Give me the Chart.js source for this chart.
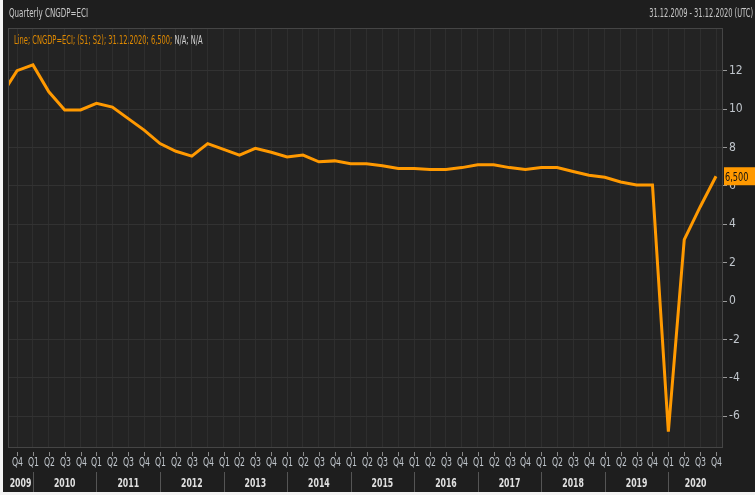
<!DOCTYPE html>
<html>
<head>
<meta charset="utf-8">
<script src="https://cdn.jsdelivr.net/npm/chart.js@4"></script>
<style>
  html, body { margin: 0; padding: 0; background: #1e1e1e; }
  #wrap { width: 755px; height: 495px; }
</style>
</head>
<body>
<div id="wrap"><canvas id="gdpChart" width="755" height="495"></canvas></div>
<script>
// quarters from Q3 2009 (partly off the left edge) to Q4 2020
const quarters = [
  'Q3','Q4',
  'Q1','Q2','Q3','Q4', 'Q1','Q2','Q3','Q4', 'Q1','Q2','Q3','Q4',
  'Q1','Q2','Q3','Q4', 'Q1','Q2','Q3','Q4', 'Q1','Q2','Q3','Q4',
  'Q1','Q2','Q3','Q4', 'Q1','Q2','Q3','Q4', 'Q1','Q2','Q3','Q4',
  'Q1','Q2','Q3','Q4', 'Q1','Q2','Q3','Q4'
];
const years = ['2009','2010','2011','2012','2013','2014','2015','2016','2017','2018','2019','2020'];
const gdpGrowth = [
  10.7, 12.0,
  12.3, 10.9, 9.95, 9.95,
  10.3, 10.1, 9.5, 8.9,
  8.2, 7.8, 7.55, 8.2,
  7.9, 7.6, 7.95, 7.75,
  7.5, 7.6, 7.25, 7.3,
  7.15, 7.15, 7.05, 6.9,
  6.9, 6.85, 6.85, 6.95,
  7.1, 7.1, 6.95, 6.85,
  6.95, 6.95, 6.75, 6.55,
  6.45, 6.2, 6.05, 6.05,
  -6.8, 3.2, 4.9, 6.5
];
const yTicks = [-6, -4, -2, 0, 2, 4, 6, 8, 10, 12];

const FONT = '"DejaVu Sans Condensed", "Liberation Sans Narrow", sans-serif';
const ORANGE = '#ff9900';

// x = 0 is Q4 2009
const points = gdpGrowth.map((v, i) => ({ x: i - 1, y: v }));

// the original uses a very narrow font, so squeeze text horizontally
function narrowText(ctx, text, x, y, align, sx) {
  ctx.save();
  ctx.translate(x, y);
  ctx.scale(sx, 1);
  ctx.textAlign = align;
  ctx.fillText(text, 0, 0);
  ctx.restore();
  return ctx.measureText(text).width * sx;
}

const decorations = {
  id: 'decorations',
  beforeDraw(chart) {
    const { ctx, chartArea: a } = chart;
    ctx.save();
    ctx.fillStyle = '#1e1e1e';
    ctx.fillRect(0, 0, chart.width, chart.height);
    ctx.fillStyle = '#232323';
    ctx.fillRect(a.left, a.top, a.right - a.left, a.bottom - a.top);
    ctx.restore();
  },
  afterDraw(chart) {
    const { ctx, chartArea: a, scales } = chart;
    const xs = scales.x;
    ctx.save();
    // frame
    ctx.strokeStyle = '#454545';
    ctx.lineWidth = 1;
    ctx.strokeRect(a.left + 0.5, a.top + 0.5, a.right - a.left - 1, a.bottom - a.top);

    // header texts
    ctx.font = '12px ' + FONT;
    ctx.textBaseline = 'middle';
    ctx.fillStyle = '#c8c8c8';
    narrowText(ctx, 'Quarterly CNGDP=ECI', 9, 14, 'left', 0.66);
    narrowText(ctx, '31.12.2009 - 31.12.2020 (UTC)', 753, 14, 'right', 0.62);

    // in-plot legend line
    const lead = 'Line; CNGDP=ECI; (S1; S2); 31.12.2020; 6,500; ';
    ctx.fillStyle = '#e08a00';
    const w = narrowText(ctx, lead, 14, 41, 'left', 0.62);
    ctx.fillStyle = '#d0d0d0';
    narrowText(ctx, 'N/A; N/A', 14 + w, 41, 'left', 0.62);

    // quarter tick marks and labels
    ctx.strokeStyle = '#8a8a8a';
    ctx.fillStyle = '#c0c6cc';
    for (let i = 0; i < quarters.length - 1; i++) {
      const px = Math.round(xs.getPixelForValue(i)) + 0.5;
      ctx.beginPath();
      ctx.moveTo(px, a.bottom + 5);
      ctx.lineTo(px, a.bottom + 9);
      ctx.stroke();
      narrowText(ctx, quarters[i + 1], px, 463, 'center', 0.72);
    }

    // year row
    ctx.font = 'bold 12px ' + FONT;
    ctx.fillStyle = '#e0e0e0';
    ctx.strokeStyle = '#555';
    years.forEach((yr, k) => {
      const startIdx = k === 0 ? -0.6 : 1 + (k - 1) * 4;
      const endIdx = 1 + k * 4;
      const x0 = Math.max(a.left, xs.getPixelForValue(startIdx));
      const x1 = Math.min(a.right, xs.getPixelForValue(endIdx));
      narrowText(ctx, yr, (x0 + x1) / 2, 484, 'center', 0.72);
      if (k < years.length - 1) {
        const sx = Math.round(x1) + 0.5;
        ctx.beginPath();
        ctx.moveTo(sx, 472);
        ctx.lineTo(sx, 492);
        ctx.stroke();
      }
    });

    // last value badge
    const last = gdpGrowth[gdpGrowth.length - 1];
    const ly = scales.y.getPixelForValue(last);
    ctx.fillStyle = ORANGE;
    ctx.fillRect(a.right + 1, ly - 9, 755 - a.right, 18);
    ctx.fillStyle = '#111';
    ctx.font = '13px ' + FONT;
    narrowText(ctx, last.toFixed(3).replace('.', ','), a.right + 2, ly + 1, 'left', 0.7);

    // white edges of the screenshot
    ctx.fillStyle = '#f4f4f4';
    ctx.fillRect(0, 0, 3, chart.height);
    ctx.fillRect(0, 492, chart.width, 3);
    ctx.restore();
  }
};

new Chart(document.getElementById('gdpChart'), {
  type: 'line',
  data: {
    datasets: [{
      data: points,
      borderColor: ORANGE,
      borderWidth: 3,
      pointRadius: 0,
      tension: 0,
      clip: 0
    }]
  },
  options: {
    responsive: false,
    animation: false,
    layout: { padding: { left: 8, top: 28, right: 0, bottom: 0 } },
    plugins: { legend: { display: false }, tooltip: { enabled: false } },
    scales: {
      x: {
        type: 'linear',
        min: -0.57,
        max: 44.44,
        afterBuildTicks: s => { s.ticks = quarters.slice(1).map((q, i) => ({ value: i })); },
        afterFit: s => { s.height = 48; },
        grid: { color: '#2e2e2e', drawTicks: false },
        border: { display: false },
        ticks: { display: false, autoSkip: false }
      },
      y: {
        position: 'right',
        min: -7.6,
        max: 14.22,
        afterBuildTicks: s => { s.ticks = yTicks.map(v => ({ value: v })); },
        afterFit: s => { s.width = 32; },
        grid: { color: '#323232', tickColor: '#9a9a9a', tickLength: 4 },
        border: { display: false },
        ticks: {
          padding: 2,
          color: '#c0c6cc',
          font: { family: FONT, size: 12 }
        }
      }
    }
  },
  plugins: [decorations]
});
</script>
</body>
</html>
